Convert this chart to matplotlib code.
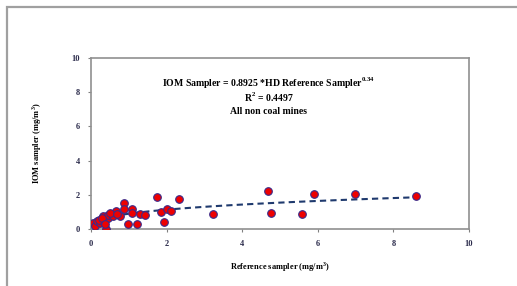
import numpy as np
import matplotlib.pyplot as plt
from matplotlib.patches import Rectangle

plt.rcParams['font.family'] = 'Liberation Serif'
plt.rcParams['mathtext.fontset'] = 'custom'
plt.rcParams['mathtext.rm'] = 'Liberation Serif:bold'

# Reference sampler vs IOM sampler (mg/m3)
ref_x = [0.06, 0.10, 0.15, 0.24, 0.33, 0.33, 0.41, 0.41, 0.44, 0.46, 0.55, 0.59,
         0.65, 0.77, 0.87, 0.88, 0.97, 1.08, 1.08, 1.23, 1.30, 1.43, 1.75, 1.84,
         1.93, 2.02, 2.11, 2.33, 3.22, 4.69, 4.77, 5.59, 5.89, 6.98, 8.61,
         0.20, 0.28, 0.50, 0.70, 0.38]
iom_y = [0.37, 0.18, 0.47, 0.37, 0.76, 0.47, 0.57, -0.02, 0.65, 0.82, 0.86, 0.76,
         1.06, 0.76, 1.51, 1.16, 0.28, 1.19, 0.96, 0.31, 0.86, 0.82, 1.88, 1.02,
         0.39, 1.18, 1.06, 1.78, 0.90, 2.24, 0.96, 0.86, 2.04, 2.02, 1.92,
         0.55, 0.62, 0.95, 0.90, 0.30]

# power fit shown on the chart
coef_a = 0.8925
coef_b = 0.34

fig = plt.figure(figsize=(5.17, 2.86), dpi=100)
ax = fig.add_axes([91/517, 1 - 229/286, 378/517, 171/286])

# outer frame of the embedded chart
fig.patches.append(Rectangle((7/517, -0.1), 1.2, 1 - 7/286 + 0.1, transform=fig.transFigure,
                             fill=False, edgecolor='#a0a0a0', linewidth=1.6))

fit_x = np.linspace(0.05, 8.6, 100)
ax.plot(fit_x, coef_a * fit_x ** coef_b, color='#1f3a6e', linestyle=(0, (3, 2)), linewidth=1.5, zorder=2)
ax.scatter(ref_x, iom_y, s=30, color='#ee0000', edgecolors='#3a2a8a', linewidths=0.8, zorder=3)

ax.set_xlim(0, 10)
ax.set_ylim(0, 10)
ax.set_xticks([0, 2, 4, 6, 8, 10])
ax.set_yticks([0, 2, 4, 6, 8, 10])
ax.tick_params(labelsize=6, length=2, width=0.8, color='#808080', labelcolor='#2b2b4b', pad=6)
for lab in ax.get_xticklabels() + ax.get_yticklabels():
    lab.set_fontweight('bold')
for s in ax.spines.values():
    s.set_color('#909090')
    s.set_linewidth(1.2)

ax.set_xlabel('Reference sampler (mg/m$^3$)', fontsize=6, fontweight='bold', labelpad=9)
ax.set_ylabel('IOM sampler (mg/m$^3$)', fontsize=6, fontweight='bold', labelpad=20)

ax.text(4.7, 8.5, 'IOM Sampler = 0.8925 *HD Reference Sampler$^{0.34}$', fontsize=7,
        fontweight='bold', ha='center', va='center')
ax.text(4.7, 7.7, 'R$^2$ = 0.4497', fontsize=7, fontweight='bold', ha='center', va='center')
ax.text(4.7, 6.9, 'All non coal mines', fontsize=7, fontweight='bold', ha='center', va='center')

plt.savefig('out.png', dpi=100)
